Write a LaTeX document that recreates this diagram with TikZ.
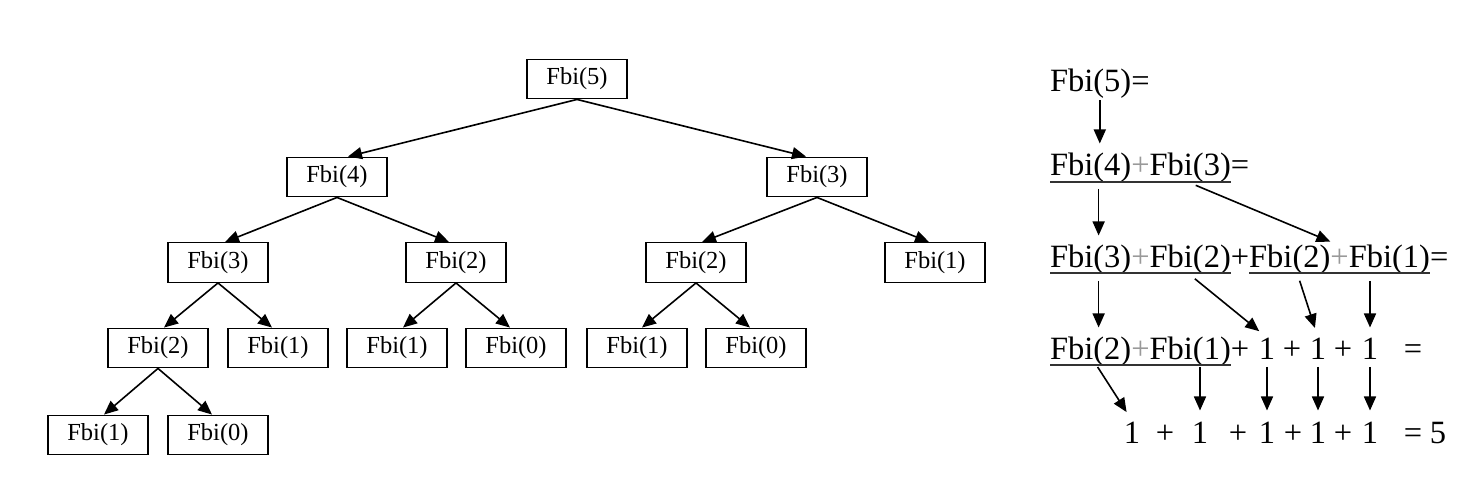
\documentclass[tikz,border=0pt]{standalone}
\usepackage{fontspec}
\setmainfont{Liberation Serif}
\usetikzlibrary{arrows.meta,fit}
\begin{document}
\begin{tikzpicture}[x=1pt,y=-1pt,
 fbox/.style={draw,line width=1.4pt,minimum width=100pt,minimum height=39.5pt,inner sep=0pt,font=\fontsize{24.5}{24.5}\selectfont},
 tarr/.style={draw,line width=1.6pt,-{Triangle[length=14pt,width=12pt]}},
 term/.style={inner sep=0pt,outer sep=0pt,text height=22.5pt,text depth=7pt,font=\fontsize{32.5}{33}\selectfont},
 gplus/.style={term,text=black!40},
 uline/.style={line width=2.4pt,draw=black!80},
 rarr/.style={tarr,shorten >=10pt,shorten <=6pt}]
\fill[white] (0,0) rectangle (1484,486);
\useasboundingbox (0,0) rectangle (1484,486);
% tree
\node[fbox] (n5) at (577,79) {Fbi(5)};
\node[fbox] (n4) at (337,177) {Fbi(4)};
\node[fbox] (n3) at (817,177) {Fbi(3)};
\node[fbox] (n43) at (218,262.5) {Fbi(3)};
\node[fbox] (n42) at (456,262.5) {Fbi(2)};
\node[fbox] (n32) at (696,262.5) {Fbi(2)};
\node[fbox] (n31) at (935,262.5) {Fbi(1)};
\node[fbox] (a2) at (158,348) {Fbi(2)};
\node[fbox] (a1) at (278,348) {Fbi(1)};
\node[fbox] (b1) at (397,348) {Fbi(1)};
\node[fbox] (b0) at (516,348) {Fbi(0)};
\node[fbox] (c1) at (637,348) {Fbi(1)};
\node[fbox] (c0) at (756,348) {Fbi(0)};
\node[fbox] (d1) at (98,435) {Fbi(1)};
\node[fbox] (d0) at (218,435) {Fbi(0)};
\draw[tarr] (n5.south) -- ([xshift=11pt]n4.north);
\draw[tarr] (n5.south) -- ([xshift=-11pt]n3.north);
\draw[tarr] (n4.south) -- ([xshift=7pt]n43.north);
\draw[tarr] (n4.south) -- ([xshift=-7pt]n42.north);
\draw[tarr] (n3.south) -- ([xshift=6pt]n32.north);
\draw[tarr] (n3.south) -- ([xshift=-6pt]n31.north);
\draw[tarr] (n43.south) -- ([xshift=6pt]a2.north);
\draw[tarr] (n43.south) -- ([xshift=-6pt]a1.north);
\draw[tarr] (n42.south) -- ([xshift=6pt]b1.north);
\draw[tarr] (n42.south) -- ([xshift=-6pt]b0.north);
\draw[tarr] (n32.south) -- ([xshift=5pt]c1.north);
\draw[tarr] (n32.south) -- ([xshift=-6pt]c0.north);
\draw[tarr] (a2.south) -- ([xshift=6pt]d1.north);
\draw[tarr] (a2.south) -- ([xshift=-6pt]d0.north);
% right: row 1
\node[term,anchor=base west] (r1) at (1050,92) {Fbi(5)=};
% row 2
\node[term,anchor=base west] (r2a) at (1050,176) {Fbi(4)};
\node[gplus,anchor=base west] (r2p) at (r2a.base east) {+};
\node[term,anchor=base west] (r2b) at (r2p.base east) {Fbi(3)};
\node[term,anchor=base west] (r2e) at (r2b.base east) {=};
\draw[uline] ([yshift=-6pt]r2a.base west) -- ([yshift=-6pt]r2b.base east);
% row 3
\node[term,anchor=base west] (r3a) at (1050,268) {Fbi(3)};
\node[gplus,anchor=base west] (r3p1) at (r3a.base east) {+};
\node[term,anchor=base west] (r3b) at (r3p1.base east) {Fbi(2)};
\node[term,anchor=base west] (r3p2) at (r3b.base east) {+};
\node[term,anchor=base west] (r3c) at (r3p2.base east) {Fbi(2)};
\node[gplus,anchor=base west] (r3p3) at (r3c.base east) {+};
\node[term,anchor=base west] (r3d) at (r3p3.base east) {Fbi(1)};
\node[term,anchor=base west] (r3e) at (r3d.base east) {=};
\node[fit=(r3c)(r3d),inner sep=0pt,outer sep=0pt] (g3) {};
\draw[uline] ([yshift=-5pt]r3a.base west) -- ([yshift=-5pt]r3b.base east);
\draw[uline] ([yshift=-5pt]r3c.base west) -- ([yshift=-5pt]r3d.base east);
% row 4
\node[term,anchor=base west] (r4a) at (1050,360) {Fbi(2)};
\node[gplus,anchor=base west] (r4p) at (r4a.base east) {+};
\node[term,anchor=base west] (r4b) at (r4p.base east) {Fbi(1)};
\node[term,anchor=base west] (r4q) at (r4b.base east) {+};
\node[term,anchor=base] (r4u1) at (1267,360) {1};
\node[term,anchor=base] (r4s1) at (1292,360) {+};
\node[term,anchor=base] (r4u2) at (1318,360) {1};
\node[term,anchor=base] (r4s2) at (1343,360) {+};
\node[term,anchor=base] (r4u3) at (1370,360) {1};
\node[term,anchor=base] (r4e) at (1413,360) {=};
\draw[uline] ([yshift=-5pt]r4a.base west) -- ([yshift=-5pt]r4b.base east);
% row 5
\node[term,anchor=base] (r5u1) at (1132,443) {1};
\node[term,anchor=base] (r5s1) at (1165,443) {+};
\node[term,anchor=base] (r5u2) at (1200,443) {1};
\node[term,anchor=base] (r5s2) at (1238,443) {+};
\node[term,anchor=base] (r5u3) at (1267,443) {1};
\node[term,anchor=base] (r5s3) at (1293,443) {+};
\node[term,anchor=base] (r5u4) at (1318,443) {1};
\node[term,anchor=base] (r5s4) at (1343,443) {+};
\node[term,anchor=base] (r5u5) at (1370,443) {1};
\node[term,anchor=base] (r5e) at (1413,443) {=};
\node[term,anchor=base] (r5v) at (1438,443) {5};
% right arrows
\draw[rarr,shorten <=1pt] (r1.south) -- (r1.south |- r2a.north);
\draw[rarr] ([xshift=8pt]r2a.south) -- ([xshift=8pt]r3a.north);
\draw[rarr] (r2b.south) -- (g3.north);
\draw[rarr] ([xshift=8pt]r3a.south) -- ([xshift=8pt]r4a.north);
\draw[rarr] (r3b.south) -- (r4u1.north);
\draw[rarr] ([xshift=8pt]r3c.south) -- (r4u2.north);
\draw[rarr] (r4u3.north |- r3d.south) -- (r4u3.north);
\draw[rarr,shorten <=0pt] ([xshift=7pt]r4a.south) -- (r5u1.north);
\draw[rarr,shorten <=0pt] (r5u2.north |- r4b.south) -- (r5u2.north);
\draw[rarr,shorten <=0pt] (r4u1.south) -- (r5u3.north);
\draw[rarr,shorten <=0pt] (r4u2.south) -- (r5u4.north);
\draw[rarr,shorten <=0pt] (r4u3.south) -- (r5u5.north);
\end{tikzpicture}
\end{document}
